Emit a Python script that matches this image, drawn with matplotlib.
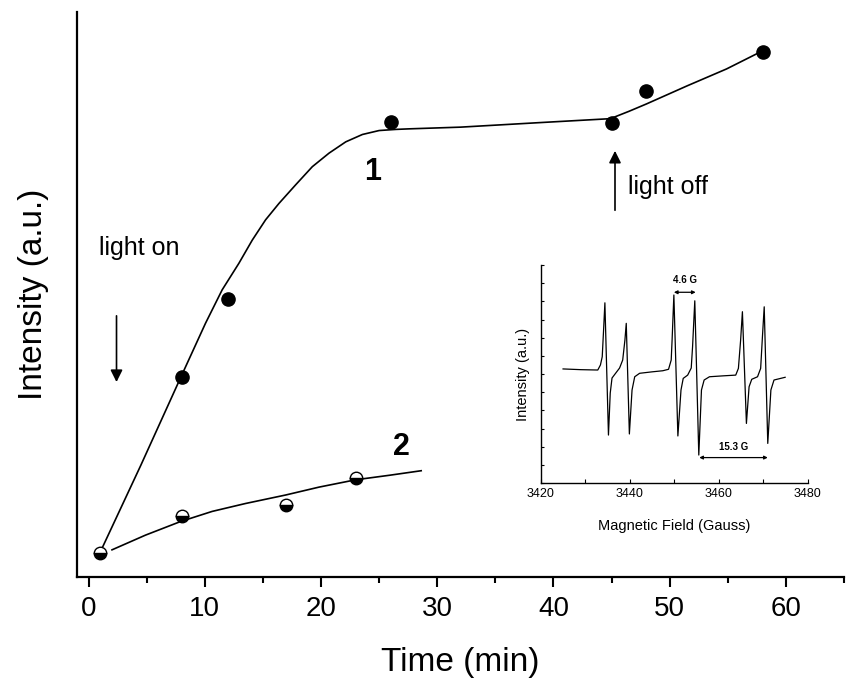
import matplotlib

matplotlib.use("Agg")
import matplotlib.pyplot as plt
from matplotlib.ticker import MultipleLocator, NullLocator

plt.rcParams["font.family"] = ["Liberation Sans", "DejaVu Sans"]

# --- main kinetics data (time in min, intensity in a.u.) ---
time_1 = [1, 8, 12, 26, 45, 48, 58]
intensity_1 = [0.42, 3.54, 4.92, 8.05, 8.04, 8.60, 9.29]

time_2 = [1, 8, 17, 23]
intensity_2 = [0.42, 1.08, 1.27, 1.75]

# fitted curves
fit_time_1 = [1.0, 4.5, 7.9, 10.06, 11.49, 12.93, 14.08, 15.23, 16.38,
              17.82, 19.25, 20.69, 22.13, 23.56, 25.0, 26.44, 27.6, 32.0,
              38.8, 44.9, 46.5, 48.0, 51.5, 54.9, 58.0]
fit_int_1 = [0.44, 1.98, 3.52, 4.49, 5.08, 5.55, 5.96, 6.32, 6.61,
             6.94, 7.26, 7.50, 7.70, 7.83, 7.90, 7.92, 7.93, 7.96,
             8.04, 8.11, 8.24, 8.37, 8.69, 8.99, 9.31]

fit_time_2 = [2.01, 4.89, 7.9, 10.63, 13.5, 16.95, 19.83, 22.99, 25.9, 28.62]
fit_int_2 = [0.48, 0.74, 0.98, 1.16, 1.30, 1.45, 1.59, 1.72, 1.80, 1.88]

# --- inset EPR spectrum (field in G, derivative signal in a.u.) ---
field_g = [3425.0, 3429.0, 3432.8, 3433.4, 3433.8, 3434.1, 3434.4, 3435.2,
           3435.6, 3436.0, 3436.8, 3437.7, 3438.4, 3438.9, 3439.2, 3439.9,
           3440.5, 3441.1, 3442.2, 3445.0, 3447.4, 3448.7, 3449.3, 3449.5,
           3449.9, 3450.8, 3451.5, 3452.0, 3453.0, 3453.8, 3454.1, 3454.6,
           3455.5, 3456.1, 3456.7, 3457.9, 3461.0, 3463.8, 3464.4, 3464.9,
           3465.3, 3466.2, 3466.8, 3467.4, 3468.7, 3469.4, 3469.8, 3470.2,
           3471.0, 3471.7, 3472.4, 3474.9]
signal = [6.28, 6.24, 6.22, 6.50, 6.95, 8.40, 9.92, 2.64,
          4.95, 5.78, 6.04, 6.33, 6.77, 7.87, 8.79, 2.70,
          5.12, 5.85, 6.04, 6.12, 6.18, 6.26, 6.77, 7.87,
          10.35, 2.59, 5.12, 5.76, 5.94, 6.33, 7.50, 10.03,
          1.54, 5.12, 5.67, 5.85, 5.90, 5.94, 6.31, 7.87,
          9.43, 3.28, 5.30, 5.71, 5.85, 6.31, 8.05, 9.70,
          2.18, 5.12, 5.67, 5.82]

x_ticks = [0, 10, 20, 30, 40, 50, 60]
inset_x_ticks = [3420, 3440, 3460, 3480]

fig = plt.figure(figsize=(8.49, 6.98), dpi=100)
ax = fig.add_axes([0.0907, 0.1734, 0.9033, 0.8096])

ax.plot(fit_time_1, fit_int_1, color="black", lw=1.2)
ax.plot(fit_time_2, fit_int_2, color="black", lw=1.2)
ax.plot(time_1[1:], intensity_1[1:], "o", color="black", ms=9.5)
ax.plot(time_2, intensity_2, "o", ms=9, fillstyle="bottom",
        markerfacecolor="black", markerfacecoloralt="white",
        markeredgecolor="black", markeredgewidth=1.0)

ax.set_xlim(-1, 65)
ax.set_ylim(0, 10)
ax.set_xticks(x_ticks)
ax.xaxis.set_minor_locator(MultipleLocator(5))
ax.yaxis.set_major_locator(NullLocator())
ax.tick_params(axis="x", which="major", direction="out", length=7,
               width=1.5, labelsize=20, pad=7)
ax.tick_params(axis="x", which="minor", direction="out", length=4,
               width=1.5)
for side in ("top", "right"):
    ax.spines[side].set_visible(False)
for side in ("left", "bottom"):
    ax.spines[side].set_linewidth(1.6)

ax.set_xlabel("Time (min)", fontsize=24, labelpad=18)
ax.set_ylabel("Intensity (a.u.)", fontsize=24, labelpad=20)

ax.annotate("", xy=(2.4, 3.40), xytext=(2.4, 4.67),
            arrowprops=dict(arrowstyle="-|>", color="black", lw=1.2,
                            mutation_scale=18))
ax.annotate("", xy=(45.3, 7.59), xytext=(45.3, 6.44),
            arrowprops=dict(arrowstyle="-|>", color="black", lw=1.2,
                            mutation_scale=18))
ax.text(0.86, 5.82, "light on", fontsize=18, ha="left", va="center")
ax.text(46.4, 6.90, "light off", fontsize=18, ha="left", va="center")
ax.text(24.4, 7.17, "1", fontsize=22, fontweight="bold",
        ha="center", va="center")
ax.text(26.9, 2.30, "2", fontsize=22, fontweight="bold",
        ha="center", va="center")

# inset: EPR spectrum
ins = fig.add_axes([0.637, 0.308, 0.3145, 0.3123])
ins.plot(field_g, signal, color="black", lw=0.9)
ins.set_xlim(3420, 3480)
ins.set_ylim(0, 12)
ins.set_xticks(inset_x_ticks)
ins.xaxis.set_minor_locator(MultipleLocator(10))
ins.yaxis.set_major_locator(MultipleLocator(1))
ins.set_yticklabels([])
ins.tick_params(axis="both", which="both", direction="in", length=3,
                width=0.8, labelsize=9)
ins.tick_params(axis="y", length=2)
for side in ("top", "right"):
    ins.spines[side].set_visible(False)
for side in ("left", "bottom"):
    ins.spines[side].set_linewidth(1.0)
ins.set_xlabel("Magnetic Field (Gauss)", fontsize=10.5, labelpad=14)
ins.set_ylabel("Intensity (a.u.)", fontsize=10.5, labelpad=4)

ins.annotate("", xy=(3449.9, 10.5), xytext=(3454.8, 10.5),
             arrowprops=dict(arrowstyle="<|-|>", color="black", lw=0.9,
                             mutation_scale=5, shrinkA=0, shrinkB=0))
ins.text(3452.3, 11.2, "4.6 G", fontsize=7, fontweight="bold",
         ha="center", va="center")
ins.annotate("", xy=(3455.6, 1.4), xytext=(3471.0, 1.4),
             arrowprops=dict(arrowstyle="<|-|>", color="black", lw=0.9,
                             mutation_scale=5, shrinkA=0, shrinkB=0))
ins.text(3463.3, 2.0, "15.3 G", fontsize=7, fontweight="bold",
         ha="center", va="center")

fig.savefig("out.png", dpi=100)
